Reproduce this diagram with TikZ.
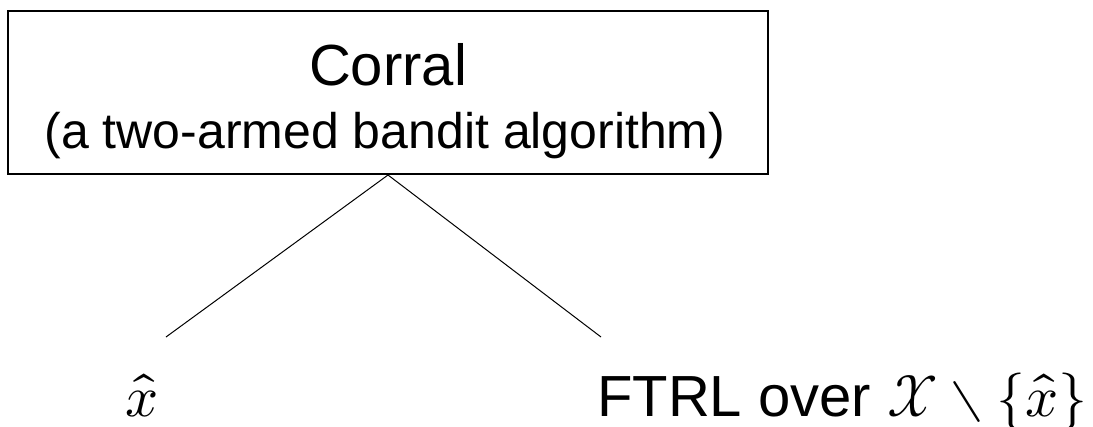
\documentclass[tikz,border=0pt]{standalone}
\usepackage{fontspec}
\usepackage{unicode-math}
\setmainfont{Liberation Sans}
\setmathfont{Latin Modern Math}
\begin{document}
\begin{tikzpicture}[x=1pt,y=-1pt,
  lbl/.style={inner sep=0pt, font=\fontsize{58}{68}\selectfont},
  sublbl/.style={inner sep=0pt, font=\fontsize{50}{60}\selectfont},
  boxst/.style={draw, line width=2pt, minimum width=760pt, minimum height=163pt, inner sep=0pt},
  edge/.style={line width=1pt}]
\useasboundingbox (0,0) rectangle (1093,426);
\node[boxst] (top) at (388,92.5) {};
\node[lbl, anchor=base] (t1) at (388,85) {Corral};
\node[sublbl, anchor=base] (t2) at (385,148) {(a two-armed bandit algorithm)};
\coordinate (lend) at (166,337);
\coordinate (rend) at (601,337);
\draw[edge] (top.south) -- (lend);
\draw[edge] (top.south) -- (rend);
\node[lbl, anchor=base] (xh) at (142,416) {$\hat{x}$};
\node[lbl, anchor=base west] (ftrl) at (597,416) {FTRL over $\mathcal{X} \setminus \{\hat{x}\}$};
\end{tikzpicture}
\end{document}
